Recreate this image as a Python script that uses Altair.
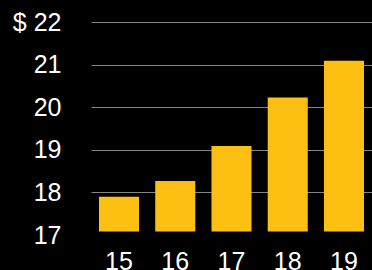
import altair as alt
import pandas as pd

years = ["15", "16", "17", "18", "19"]
values = [17.90, 18.27, 19.09, 20.23, 21.09]
baseline = [17.08] * len(years)
y_ticks = [17, 18, 19, 20, 21, 22]

df = pd.DataFrame({"year": years, "value": values, "base": baseline})

FONT = "Liberation Sans"

chart = (
    alt.Chart(df)
    .mark_bar(color="#fdbf11")
    .encode(
        x=alt.X(
            "year:N",
            sort=years,
            title=None,
            scale=alt.Scale(paddingInner=0.288, paddingOuter=0.142),
            axis=alt.Axis(
                labelAngle=0,
                labelColor="white",
                labelFont=FONT,
                labelFontSize=25,
                labelPadding=14,
                ticks=False,
                domain=False,
                grid=False,
            ),
        ),
        y=alt.Y(
            "value:Q",
            title=None,
            scale=alt.Scale(domain=[17, 22], nice=False, zero=False),
            axis=alt.Axis(
                values=y_ticks,
                labelColor="white",
                labelFont=FONT,
                labelFontSize=25,
                labelPadding=30,
                labelExpr="datum.value == 22 ? '$ 22' : datum.label",
                ticks=False,
                domain=False,
                grid=True,
                gridColor="#858585",
                gridWidth=1,
                gridOpacity=alt.condition("datum.value == 17", alt.value(0), alt.value(1)),
            ),
        ),
        y2="base:Q",
    )
    .properties(
        width=281,
        height=213,
        background="black",
        padding={"left": 91, "top": 22, "right": 0, "bottom": 35},
        autosize=alt.AutoSizeParams(type="none"),
    )
    .configure_view(stroke=None)
)

chart.save(
    "out.html",
    embed_options={
        "renderer": "svg",
        "actions": False,
        "defaultStyle": "html,body{margin:0;padding:0;background:#000;overflow:hidden}",
    },
)
